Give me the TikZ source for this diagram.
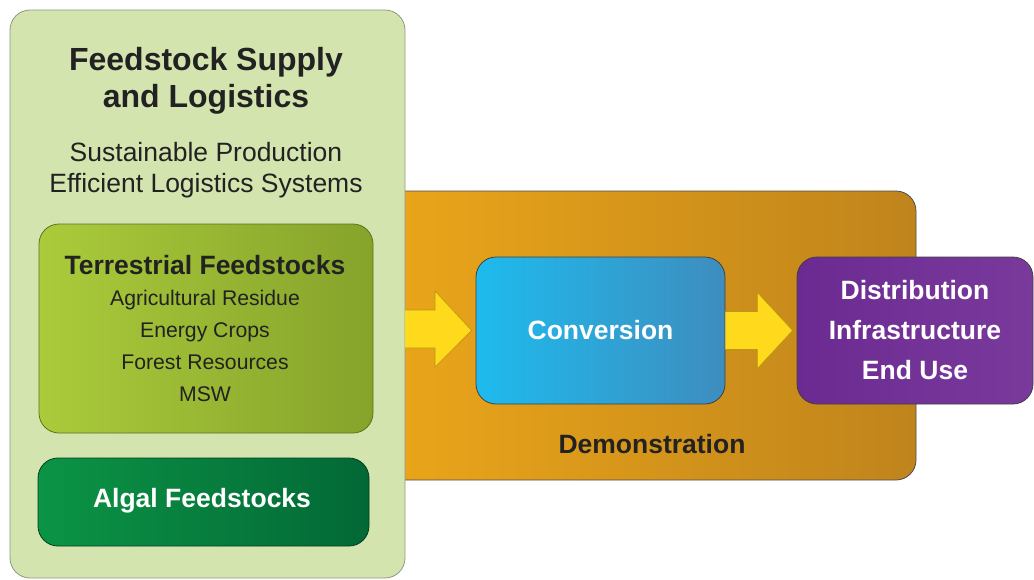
\documentclass[tikz,border=0pt]{standalone}
\usepackage{fontspec}
\setmainfont{Liberation Sans}
\usetikzlibrary{calc}
\definecolor{outergreen}{HTML}{D4E4AF}
\definecolor{outerline}{HTML}{8C9A80}
\definecolor{orangeL}{HTML}{EBA619}
\definecolor{orangeR}{HTML}{BF841C}
\definecolor{terrL}{HTML}{ABCB3B}
\definecolor{terrR}{HTML}{86A32B}
\definecolor{algL}{HTML}{0B9445}
\definecolor{algR}{HTML}{036836}
\definecolor{convL}{HTML}{1EBBEE}
\definecolor{convR}{HTML}{3E8DBE}
\definecolor{purpL}{HTML}{6A2A91}
\definecolor{purpR}{HTML}{7A3A9C}
\definecolor{arrowY}{HTML}{FFD91C}
\definecolor{arrowLine}{HTML}{B89A10}
\definecolor{txt}{HTML}{222222}
\tikzset{
  box/.style={draw=#1, line width=0.8pt, rounded corners=20pt},
  blockarrow/.style={fill=arrowY, draw=arrowLine, line width=0.6pt, line join=miter},
  titletext/.style={font=\bfseries\fontsize{32}{37}\selectfont, text=txt, align=center},
  subtext/.style={font=\fontsize{26.5}{31}\selectfont, text=txt, align=center},
  whitebold/.style={font=\bfseries\fontsize{26.5}{40}\selectfont, text=white, align=center},
}
\begin{document}
\begin{tikzpicture}[x=1pt,y=-1pt]
\useasboundingbox (0,0) rectangle (1034,579);
% orange demonstration box
\path[box=black!70, left color=orangeL, right color=orangeR]
  (380,191) rectangle (916,480);
\node[font=\bfseries\fontsize{26.5}{30}\selectfont, text=txt] (demo) at (652,444) {Demonstration};
% outer green box
\path[box=outerline, fill=outergreen] (10,10) rectangle (405,578);
\node[titletext] (fsl) at (206,81) {Feedstock Supply\\and Logistics};
\node[subtext] (sus) at (206,170) {Sustainable Production\\Efficient Logistics Systems};
% terrestrial
\path[box=terrR!70!black, left color=terrL, right color=terrR] (39,224) rectangle (373,433);
\node[font=\bfseries\fontsize{26.5}{30}\selectfont, text=txt] (terr) at (205,265) {Terrestrial Feedstocks};
\node[font=\fontsize{21.2}{32}\selectfont, text=txt, align=center] (terrlist) at (205,346)
  {Agricultural Residue\\Energy Crops\\Forest Resources\\MSW};
% algal
\path[box=algR!60!black, left color=algL, right color=algR] (38,458) rectangle (369,546);
\node[font=\bfseries\fontsize{26.5}{30}\selectfont, text=white] (alg) at (202,501) {Algal Feedstocks};
% conversion
\node[box=black!75, left color=convL, right color=convR, minimum width=249pt, minimum height=147pt,
  font=\bfseries\fontsize{26.5}{30}\selectfont, text=white] (conv) at (600.5,330.5) {Conversion};
% distribution
\node[box=black!75, left color=purpL, right color=purpR, minimum width=236pt, minimum height=147pt,
  whitebold] (dist) at (915,330.5) {Distribution\\Infrastructure\\End Use};
% block arrows
\coordinate (a1s) at (405,329);
\draw[blockarrow] ($(a1s)+(0,-19)$) -- ($(a1s)+(30,-19)$) -- ($(a1s)+(30,-38)$)
  -- ($(conv.west)+(-4,0)$) -- ($(a1s)+(30,38)$) -- ($(a1s)+(30,19)$) -- ($(a1s)+(0,19)$);
\draw[blockarrow] ($(conv.east)+(0,-19)$) -- ($(conv.east)+(32,-19)$) -- ($(conv.east)+(32,-38)$)
  -- ($(dist.west)+(-4,0)$) -- ($(conv.east)+(32,38)$) -- ($(conv.east)+(32,19)$) -- ($(conv.east)+(0,19)$);
\end{tikzpicture}
\end{document}
